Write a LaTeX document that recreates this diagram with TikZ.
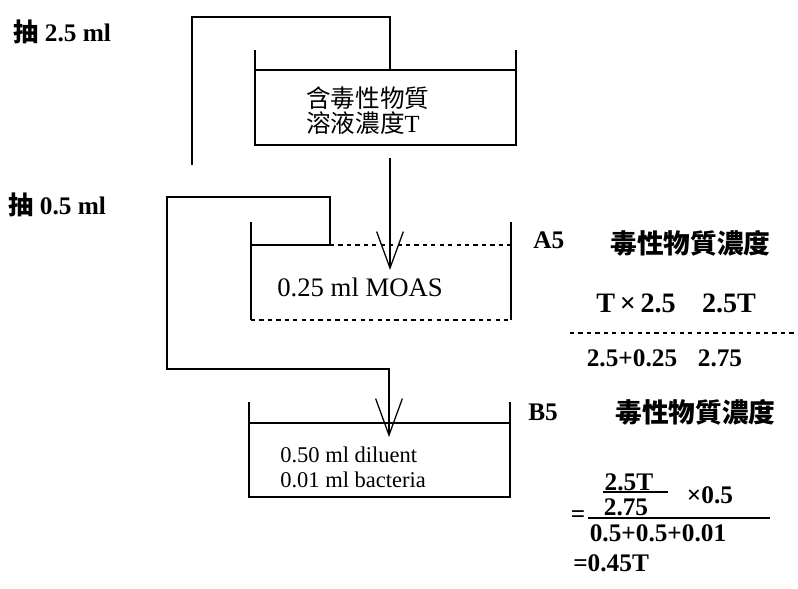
\documentclass[tikz,border=0pt]{standalone}
\usepackage{fontspec}
\setmainfont{Liberation Serif}
\newfontfamily\cjk{Noto Sans CJK TC}
\usetikzlibrary{arrows.meta}

\begin{document}
\begin{tikzpicture}[x=0.025cm,y=-0.025cm]
\tikzset{>={Straight Barb[length=26pt,width=19pt]}}
\tikzset{wall/.style={line width=0.9pt},
lbl/.style={inner sep=0pt,font=\bfseries\fontsize{18}{20}\selectfont},
biglbl/.style={inner sep=0pt,font=\bfseries\fontsize{20}{22}\selectfont},
cjklbl/.style={inner sep=0pt,font=\cjk\bfseries\fontsize{19}{21}\selectfont},
cjktxt/.style={inner sep=0pt,align=left,font=\cjk\fontsize{17.5}{17.8}\selectfont},
intxt/.style={inner sep=0pt,align=left,font=\fontsize{19}{22}\selectfont},
smtxt/.style={inner sep=0pt,align=left,font=\fontsize{16}{17.8}\selectfont}}
\useasboundingbox (0,0) rectangle (798,589);

\coordinate (T1pick) at (390,70);
\coordinate (P1) at (192,17);
\coordinate (P1end) at (192,165);
\coordinate (T1out) at (390,158);
\coordinate (A5in) at (390,270);
\coordinate (A5pick) at (330,245);
\coordinate (Q1) at (330,197);
\coordinate (Q2) at (167,369);
\coordinate (B5in) at (389,437);

\draw[wall] (255,50) |- (516,145) -- (516,50);
\draw[wall] (255,70) -- (516,70);

\draw[wall] (251,222) -- (251,320);
\draw[wall] (511,222) -- (511,320);
\draw[wall] (251,245) -- (A5pick);
\draw[wall,dashed] (A5pick) -- (511,245);
\draw[wall,dashed] (251,320) -- (511,320);

\draw[wall] (249,402) |- (510,497) -- (510,402);
\draw[wall] (249,423) -- (510,423);

\draw[wall] (P1end) -- (P1) -| (T1pick);
\draw[wall,->] (T1out) -- (A5in);
\draw[wall,->] (A5pick) -- (Q1) -| (Q2) -| (B5in);

\node[cjktxt,anchor=west] (sol) at (306,110.5) {含毒性物質\\溶液濃度{\rmfamily T}};
\node[intxt,anchor=west] (moas) at (277,287) {0.25 ml MOAS};
\node[smtxt,anchor=west] (dil) at (280,467.5) {0.50 ml diluent\\0.01 ml bacteria};

\node[lbl,anchor=west] (draw1) at (13,32) {{\cjk 抽} 2.5 ml};
\node[lbl,anchor=west] (draw2) at (8,205) {{\cjk 抽} 0.5 ml};

\node[lbl,anchor=west] (A5) at (533,240) {A5};
\node[cjklbl,anchor=west] (A5c) at (610,243) {毒性物質濃度};
\node[biglbl] (A5n1) at (636,303) {T\,×\,2.5};
\node[biglbl] (A5n2) at (729,303) {2.5T};
\draw[wall,dashed] (570,333) -- (797,333);
\node[lbl] (A5d1) at (632,358) {2.5+0.25};
\node[lbl] (A5d2) at (720,358) {2.75};

\node[lbl,anchor=west] (B5) at (528,412) {B5};
\node[cjklbl,anchor=west] (B5c) at (615,412) {毒性物質濃度};
\node[lbl] (B5n) at (629,482) {2.5T};
\draw[wall] (603,492) -- (668,492);
\node[lbl] (B5d) at (626,507) {2.75};
\node[lbl] (B5x) at (710,495) {×0.5};
\node[lbl] (B5eq) at (578,517) {=};
\draw[wall] (588,518) -- (770,518);
\node[lbl] (B5den) at (658,533) {0.5+0.5+0.01};
\node[lbl,anchor=west] (B5res) at (573,563) {=0.45T};
\end{tikzpicture}
\end{document}
